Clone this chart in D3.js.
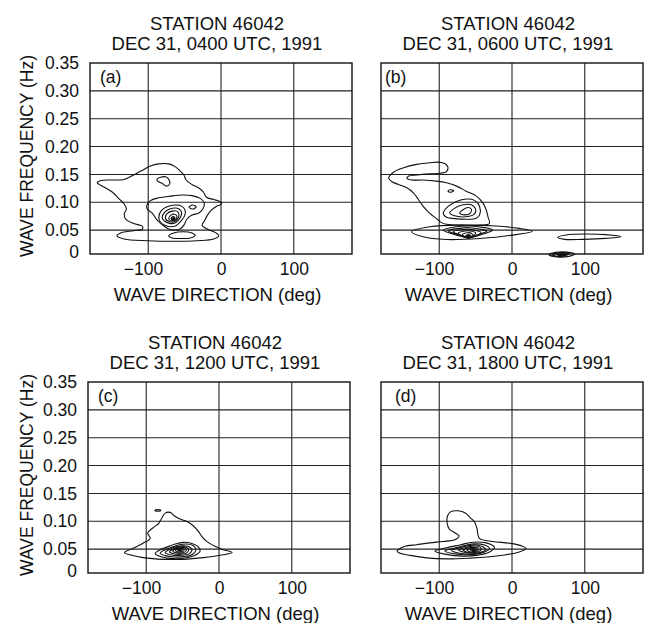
<!DOCTYPE html>
<html>
<head>
<meta charset="utf-8">
<script src="https://cdn.jsdelivr.net/npm/d3@7"></script>
<style>
  body { margin: 0; background: #fff; }
  svg { display: block; font-family: "Liberation Sans", Arial, Helvetica, sans-serif; }
</style>
</head>
<body>
<script>
// axis ticks and labels
var freqTicks = [0, 0.05, 0.10, 0.15, 0.20, 0.25, 0.30, 0.35];
var dirTicks = [-100, 0, 100];
var station = 'STATION 46042';
var times = ['DEC 31, 0400 UTC, 1991', 'DEC 31, 0600 UTC, 1991',
             'DEC 31, 1200 UTC, 1991', 'DEC 31, 1800 UTC, 1991'];
var letters = ['(a)', '(b)', '(c)', '(d)'];

// contours, [direction deg, frequency Hz]
// (a) 0400 UTC
var aOuter = [[-170,0.135],[-165,0.139],[-151,0.140],[-133,0.141],[-120,0.149],[-110,0.156],[-97,0.165],
  [-86,0.169],[-72,0.169],[-63,0.164],[-56,0.156],[-51,0.149],[-48,0.140],[-40,0.132],[-31,0.126],
  [-24,0.118],[-20,0.109],[-10,0.105],[-1,0.101],[1,0.097],[-6,0.093],[-14,0.085],[-19,0.076],
  [-23,0.066],[-26,0.059],[-19,0.052],[-8,0.046],[-3,0.040],[-10,0.034],[-33,0.031],[-65,0.030],
  [-101,0.031],[-133,0.034],[-143,0.040],[-138,0.045],[-120,0.049],[-108,0.052],[-108,0.057],
  [-120,0.062],[-131,0.070],[-133,0.079],[-130,0.088],[-133,0.097],[-140,0.106],[-149,0.118],[-160,0.127]];
var aBump = [[-88,0.1415],[-83,0.145],[-76,0.1457],[-72,0.1415],[-70.5,0.133],[-75,0.129],[-81,0.134],[-87,0.138]];
var aL2 = [[-102,0.094],[-97,0.103],[-85.5,0.108],[-69.5,0.111],[-53.6,0.113],[-40,0.112],[-28.6,0.107],
  [-23,0.099],[-25,0.088],[-31,0.0805],[-40,0.077],[-47,0.0695],[-50.5,0.060],[-56,0.052],[-64,0.050],
  [-72,0.052],[-81,0.060],[-88.6,0.0695],[-94.5,0.0805],[-101.4,0.088]];
var aSpot = [[-44,0.091],[-39,0.095],[-34,0.092],[-38,0.088]];
var aL3 = [[-85.5,0.0725],[-82.3,0.0847],[-74.1,0.092],[-62.7,0.0951],[-53.6,0.0927],[-49.1,0.0847],
  [-50,0.0756],[-55,0.0664],[-61.4,0.0585],[-68.6,0.0561],[-76.4,0.0585],[-83.2,0.0646]];
var aL4 = [[-80.9,0.0725],[-77.7,0.0817],[-70.5,0.0878],[-61.4,0.0896],[-55,0.0847],[-54.5,0.0768],
  [-58.2,0.0683],[-64.1,0.0622],[-70.5,0.0622],[-77.7,0.0664]];
var aL5 = [[-76.4,0.0713],[-74.1,0.0798],[-67.3,0.0841],[-60.5,0.0841],[-57.7,0.078],[-59.5,0.0707],
  [-64.1,0.0652],[-70.5,0.0652]];
var aL6 = [[-71.8,0.0701],[-69.5,0.0762],[-64.1,0.0786],[-60.5,0.075],[-62.3,0.0689],[-66.8,0.0664]];
var aL7 = [[-68.6,0.0707],[-65.9,0.0744],[-63.2,0.0719],[-65,0.0677]];
var aLow = [[-71.8,0.040],[-65,0.045],[-51.4,0.047],[-40,0.045],[-35.5,0.041],[-42.3,0.036],[-55.9,0.035],[-67.3,0.036]];

// (b) 0600 UTC
var bOuter = [[-163,0.154],[-149,0.162],[-131,0.168],[-113,0.171],[-101,0.172],[-92,0.169],[-88,0.163],
  [-90,0.155],[-99,0.152],[-113,0.151],[-131,0.149],[-142,0.147],[-144.5,0.143],[-138,0.140],[-122,0.140],
  [-104,0.138],[-90,0.135],[-76,0.129],[-63,0.120],[-49,0.111],[-40,0.099],[-35.5,0.0865],[-33,0.074],
  [-31,0.062],[-44.5,0.059],[-67,0.059],[-90,0.0605],[-97,0.0635],[-104,0.071],[-113,0.080],[-122,0.0925],
  [-128.6,0.105],[-135.5,0.117],[-144.5,0.126],[-156,0.132],[-165,0.137],[-169.5,0.143]];
var bSmall = [[-88,0.120],[-85,0.1225],[-80,0.121],[-84,0.118]];
var bL2 = [[-94.5,0.0804],[-87.7,0.0925],[-76.4,0.1016],[-62.7,0.1058],[-51.4,0.1034],[-44.5,0.0925],
  [-44.5,0.0774],[-49.1,0.0714],[-62.7,0.0695],[-78.6,0.0707],[-90,0.0732]];
var bL3 = [[-85.5,0.0804],[-78.6,0.0895],[-67.3,0.0956],[-55.9,0.0956],[-50,0.0877],[-51.4,0.0792],
  [-60.5,0.0744],[-74.1,0.0744]];
var bL4 = [[-71.8,0.0804],[-67.3,0.0865],[-60.5,0.0907],[-55.9,0.0877],[-57.3,0.0804],[-65,0.0774]];
var bFlat = [[-138,0.047],[-113,0.056],[-67,0.059],[-22,0.0574],[10,0.0532],[28,0.048],[1,0.041],
  [-44.5,0.035],[-90,0.0332],[-122,0.038]];
var bE1 = [[-94.5,0.0502],[-76.4,0.0562],[-58.2,0.0574],[-40,0.055],[-26.4,0.0502],[-40,0.0429],[-58.2,0.0369],[-76.4,0.0411]];
var bE2 = [[-87.7,0.049],[-71.8,0.0532],[-58.2,0.0544],[-44.5,0.052],[-34.5,0.0484],[-46.8,0.0417],[-59.1,0.0369],[-71.8,0.0411]];
var bE3 = [[-80.9,0.0472],[-69.5,0.0508],[-58.2,0.0514],[-48.2,0.049],[-42.3,0.0459],[-49.1,0.0405],[-59.1,0.0363],[-69.5,0.0405]];
var bE4 = [[-74.1,0.0441],[-65,0.0484],[-57.3,0.0484],[-50,0.0453],[-53.6,0.0393],[-60,0.0357],[-67.3,0.0387]];
var bE5 = [[-68.2,0.0417],[-61.8,0.0453],[-55.5,0.0441],[-53.6,0.0399],[-59.5,0.0357],[-65,0.0381]];
var bE6 = [[-63.6,0.0393],[-60,0.0423],[-56.4,0.0399],[-60,0.0363]];
var bRight = [[62.8,0.0371],[74.2,0.0413],[101.6,0.0431],[129,0.0419],[149.6,0.0383],[129,0.0353],[97,0.0335],[72,0.0335]];
var bBlob1 = [[51,0.006],[60,0.010],[75,0.0105],[86,0.007],[78,0.003],[62,0.002]];
var bBlob2 = [[56,0.006],[66,0.009],[78,0.008],[72,0.004],[60,0.0035]];
var bBlob3 = [[62,0.0062],[70,0.008],[75,0.006],[67,0.0045]];

// (c) 1200 UTC
var cOuter = [[-130,0.044],[-117,0.052],[-104,0.061],[-94.5,0.0695],[-98,0.079],[-91,0.088],[-83,0.096],
  [-78.5,0.106],[-74,0.1146],[-67,0.116],[-61.6,0.110],[-53.4,0.104],[-43.4,0.099],[-35.2,0.0915],
  [-28.3,0.082],[-23.7,0.073],[-16,0.063],[-5.5,0.055],[6,0.049],[18,0.044],[2,0.039],[-21.5,0.0347],
  [-49,0.0317],[-76,0.0317],[-104,0.0347],[-120,0.039]];
var cDash = [[-88,0.1195],[-84,0.121],[-80,0.1195],[-84,0.118]];
var cE1 = [[-87.7,0.042],[-80.8,0.0488],[-71.7,0.0536],[-60.3,0.0591],[-48.9,0.0622],[-37.4,0.0603],
  [-29.2,0.0549],[-26,0.0463],[-32.9,0.039],[-46.6,0.0341],[-62.6,0.0329],[-78.5,0.036]];
var cE2 = [[-80.8,0.0427],[-74,0.0488],[-64.8,0.0536],[-54.3,0.0579],[-44.3,0.0591],[-35.2,0.0561],
  [-31.5,0.0488],[-36.1,0.0408],[-47.9,0.0366],[-62.6,0.036],[-74,0.0384]];
var cE3 = [[-74,0.0439],[-68,0.0494],[-60.3,0.0536],[-51.1,0.0561],[-42,0.0549],[-37,0.0488],
  [-40.6,0.042],[-51.1,0.039],[-63.5,0.039]];
var cE4 = [[-68,0.0451],[-62.6,0.05],[-55.7,0.0536],[-46.6,0.0542],[-41.6,0.0494],[-44.3,0.0433],
  [-52.5,0.0408],[-61.6,0.0414]];
var cE5 = [[-63.5,0.0463],[-58.9,0.0506],[-52.5,0.053],[-46.1,0.0518],[-45.2,0.0469],[-49.8,0.0433],[-58,0.0433]];
var cE6 = [[-59.8,0.0475],[-56.2,0.0512],[-50.7,0.0518],[-47.9,0.0481],[-51.6,0.0451],[-57.1,0.0451]];
var cE7 = [[-57.1,0.0488],[-53.4,0.0512],[-50.7,0.0488],[-53.4,0.0463]];

// (d) 1800 UTC
var dOuter = [[-158,0.046],[-147,0.055],[-131,0.058],[-113,0.0613],[-94.5,0.0638],[-78.6,0.0669],
  [-72.7,0.0738],[-78.6,0.0794],[-86.4,0.0863],[-89.1,0.0969],[-88.6,0.1094],[-84.5,0.1169],
  [-74.1,0.1188],[-63.6,0.1144],[-57.3,0.1063],[-51.4,0.0988],[-48.2,0.0875],[-46.8,0.0763],
  [-44.5,0.0688],[-26.4,0.0638],[-3.6,0.0606],[12.3,0.0563],[19.1,0.0513],[10,0.045],[-8.2,0.04],
  [-30.9,0.0363],[-58.2,0.0338],[-90,0.0325],[-117.3,0.0344],[-140,0.0388],[-153.6,0.0425]];
var dE1 = [[-105.9,0.0463],[-90,0.0525],[-71.8,0.0575],[-53.6,0.0625],[-35.5,0.0613],[-24.1,0.0531],
  [-30.9,0.045],[-49.1,0.0388],[-69.5,0.0375],[-90,0.0406]];
var dE2 = [[-92.3,0.0469],[-78.6,0.0519],[-65,0.0563],[-51.4,0.0594],[-37.7,0.0575],[-30.9,0.0513],
  [-37.7,0.045],[-51.4,0.0406],[-67.3,0.04],[-83.2,0.0425]];
var dE3 = [[-83.2,0.0481],[-71.8,0.0525],[-60.5,0.0563],[-49.1,0.0575],[-40,0.0544],[-36.4,0.0488],
  [-44.5,0.0438],[-55.9,0.0413],[-71.8,0.0425]];
var dE4 = [[-74.1,0.0488],[-65,0.0525],[-55.9,0.055],[-46.8,0.055],[-42.3,0.05],[-46.8,0.045],[-57.3,0.0431],[-67.3,0.045]];
var dE5 = [[-67.3,0.0488],[-60.5,0.0519],[-52.7,0.0531],[-46.4,0.0513],[-47.3,0.0469],[-54.5,0.0438],[-62.7,0.045]];
var dE6 = [[-61.8,0.0488],[-56.4,0.0513],[-50,0.0513],[-49.1,0.0475],[-54.5,0.045],[-60,0.0463]];
var dE7 = [[-57.3,0.0488],[-52.7,0.0506],[-50,0.0481],[-53.6,0.0463]];

// spectral peaks (dark centre of the innermost rings)
var peaks = [[-66, 0.0705], [-60, 0.039], [-54, 0.049], [-53, 0.0475]];

var panels = [
  { contours: [aOuter, aBump, aL2, aSpot, aL3, aL4, aL5, aL6, aL7, aLow], blobs: [] },
  { contours: [bOuter, bSmall, bL2, bL3, bL4, bFlat, bE1, bE2, bE3, bE4, bE5, bE6, bRight], blobs: [bBlob1, bBlob2, bBlob3] },
  { contours: [cOuter, cDash, cE1, cE2, cE3, cE4, cE5, cE6, cE7], blobs: [] },
  { contours: [dOuter, dE1, dE2, dE3, dE4, dE5, dE6, dE7], blobs: [] }
];

// page layout of the four frames
var layout = [
  { left: 90, top: 63, letterDx: 10, yAxis: true },
  { left: 381, top: 63, letterDx: 4, yAxis: false },
  { left: 88, top: 382, letterDx: 10, yAxis: true },
  { left: 381, top: 382, letterDx: 14, yAxis: false }
];
var frameW = 262, frameH = 191;

var svg = d3.select('body').append('svg')
  .attr('width', 646)
  .attr('height', 623);

function renderPanel(i) {
  var p = panels[i], L = layout[i];
  var bottom = L.top + frameH;
  var cx = L.left + frameW / 2;

  var x = d3.scaleLinear().domain([-180, 180]).range([L.left, L.left + frameW]);
  // zero of the frequency axis sits a little below the frame edge
  var y = d3.scaleLinear().domain([0, 0.35]).range([L.top + 195, L.top]);

  var g = svg.append('g');

  // grid
  g.selectAll('.hgrid')
    .data(freqTicks.filter(function (f) { return f > 0 && f < 0.35; }))
    .enter().append('line')
      .attr('x1', L.left).attr('x2', L.left + frameW)
      .attr('y1', function (d) { return y(d); })
      .attr('y2', function (d) { return y(d); })
      .attr('stroke', '#222').attr('stroke-width', 1.1);

  g.selectAll('.vgrid')
    .data(dirTicks)
    .enter().append('line')
      .attr('x1', function (d) { return x(d); })
      .attr('x2', function (d) { return x(d); })
      .attr('y1', L.top).attr('y2', bottom)
      .attr('stroke', '#222').attr('stroke-width', 1.1);

  g.append('rect')
    .attr('x', L.left).attr('y', L.top)
    .attr('width', frameW).attr('height', frameH)
    .attr('fill', 'none').attr('stroke', '#111').attr('stroke-width', 1.4);

  // contour lines
  var line = d3.line()
    .x(function (d) { return x(d[0]); })
    .y(function (d) { return y(d[1]); })
    .curve(d3.curveCatmullRomClosed.alpha(0.5));

  g.selectAll('.contour')
    .data(p.contours)
    .enter().append('path')
      .attr('d', line)
      .attr('fill', 'none')
      .attr('stroke', '#111')
      .attr('stroke-width', 1.1);

  g.selectAll('.blob')
    .data(p.blobs)
    .enter().append('path')
      .attr('d', line)
      .attr('fill', function (d, j) { return j === p.blobs.length - 1 ? '#111' : 'none'; })
      .attr('stroke', '#111')
      .attr('stroke-width', 1.3);

  g.append('circle')
    .attr('cx', x(peaks[i][0]))
    .attr('cy', y(peaks[i][1]))
    .attr('r', 1.8)
    .attr('fill', '#111');

  // x axis tick labels
  var xAxis = g.append('g')
    .attr('transform', 'translate(0,' + bottom + ')')
    .call(d3.axisBottom(x).tickValues(dirTicks).tickSize(0).tickPadding(9).tickFormat(d3.format('d')));
  xAxis.select('.domain').remove();
  xAxis.selectAll('text')
    .attr('font-size', 17.5)
    .attr('fill', '#111')
    .attr('dx', function (d) { return d < 0 ? '-0.3em' : 0; });

  // y axis tick labels, only on the left column
  if (L.yAxis) {
    var yAxis = g.append('g')
      .attr('transform', 'translate(' + L.left + ',0)')
      .call(d3.axisLeft(y).tickValues(freqTicks).tickSize(0).tickPadding(11)
        .tickFormat(function (d) { return d === 0 ? '0' : d3.format('.2f')(d); }));
    yAxis.select('.domain').remove();
    yAxis.selectAll('text').attr('font-size', 17.5).attr('fill', '#111');
    yAxis.selectAll('.tick')
      .filter(function (d) { return d === 0; })
      .attr('transform', 'translate(0,' + (bottom - 2) + ')');

    g.append('text')
      .attr('transform', 'translate(33,' + (L.top + 93) + ') rotate(-90)')
      .attr('text-anchor', 'middle')
      .attr('font-size', 17.5)
      .attr('fill', '#111')
      .text('WAVE FREQUENCY (Hz)');
  }

  g.append('text')
    .attr('x', cx - 3.5).attr('y', bottom + 47)
    .attr('text-anchor', 'middle')
    .attr('font-size', 18.5)
    .attr('fill', '#111')
    .text('WAVE DIRECTION (deg)');

  // titles
  g.append('text')
    .attr('x', cx - 4).attr('y', L.top - 33.5)
    .attr('text-anchor', 'middle')
    .attr('font-size', 18.5)
    .attr('fill', '#111')
    .text(station);
  g.append('text')
    .attr('x', cx - 4).attr('y', L.top - 13.5)
    .attr('text-anchor', 'middle')
    .attr('font-size', 18.5)
    .attr('fill', '#111')
    .text(times[i]);

  g.append('text')
    .attr('x', L.left + L.letterDx).attr('y', L.top + 20)
    .attr('font-size', 17.5)
    .attr('fill', '#111')
    .text(letters[i]);
}

panels.forEach(function (p, i) { renderPanel(i); });
</script>
</body>
</html>
